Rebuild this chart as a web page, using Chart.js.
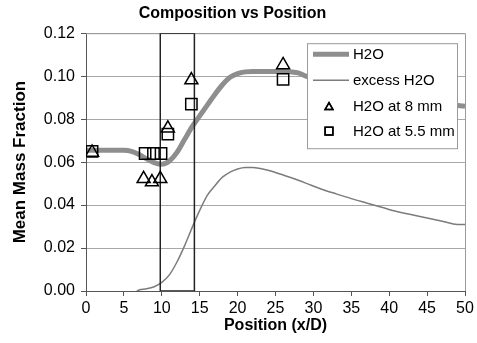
<!DOCTYPE html>
<html>
<head>
<meta charset="utf-8">
<script src="https://cdn.jsdelivr.net/npm/chart.js@4/dist/chart.umd.min.js"></script>
<style>
  html, body { margin: 0; padding: 0; background: #fff; }
  #wrap { width: 477px; height: 343px; }
</style>
</head>
<body>
<div id="wrap"><canvas id="compChart" width="477" height="343"></canvas></div>
<script>
// H2O mean mass fraction along the axis (thick grey line)
const h2oX = [0, 1, 2, 3, 4, 5, 6, 7, 8, 9, 10, 11, 12, 13, 14, 15, 16, 17, 18, 19, 20, 21, 22, 24, 26, 27, 28, 29, 30, 32, 34, 36, 38, 40, 42, 44, 46, 48, 50];
const h2oY = [0.0655, 0.0655, 0.0655, 0.0655, 0.0655, 0.0655, 0.065, 0.0635, 0.0615, 0.0598, 0.059, 0.0605, 0.0645, 0.0705, 0.0765, 0.0815, 0.0865, 0.0915, 0.096, 0.0995, 0.1012, 0.102, 0.1022, 0.1022, 0.1022, 0.102, 0.1015, 0.1, 0.0992, 0.0978, 0.0963, 0.0948, 0.0933, 0.0918, 0.0903, 0.089, 0.0878, 0.0868, 0.086];

// excess H2O (thin line)
const excessX = [6.7, 7, 8, 9, 10, 11, 12, 13, 14, 15, 16, 17, 18, 19, 20, 21, 22, 23, 24, 25, 27, 29, 31, 33, 35, 37, 39, 41, 43, 45, 47, 49, 50];
const excessY = [0, 0.0005, 0.001, 0.002, 0.004, 0.0075, 0.0135, 0.021, 0.0295, 0.0375, 0.0445, 0.049, 0.053, 0.0553, 0.0568, 0.0575, 0.0575, 0.057, 0.0562, 0.0552, 0.0528, 0.0502, 0.0475, 0.0452, 0.043, 0.041, 0.039, 0.037, 0.0355, 0.034, 0.0325, 0.031, 0.031];

// measurements
const at8X = [0.8, 7.6, 8.7, 9.8, 10.8, 13.9, 26];
const at8Y = [0.0645, 0.0522, 0.0507, 0.0522, 0.0757, 0.0982, 0.1052];
const at55X = [0.8, 7.8, 8.9, 9.9, 10.8, 13.9, 26];
const at55Y = [0.065, 0.064, 0.064, 0.064, 0.073, 0.087, 0.0985];

// outlined region
const boxX = [9.8, 9.8, 14.3, 14.3, 9.8];
const boxY = [0, 0.12, 0.12, 0, 0];

const seriesNames = ['H2O', 'excess H2O', 'H2O at 8 mm', 'H2O at 5.5 mm'];

const pts = (xs, ys) => xs.map((x, i) => ({ x: x, y: ys[i] }));

Chart.defaults.font.family = '"Liberation Sans", Arial, sans-serif';
Chart.defaults.color = '#000';

// grey frame on top/right of plot area
const framePlugin = {
    id: 'frame',
    beforeDatasetsDraw(chart) {
        const { ctx, chartArea: a } = chart;
        ctx.save();
        ctx.strokeStyle = '#9a9a9a';
        ctx.lineWidth = 1;
        ctx.beginPath();
        ctx.moveTo(a.left, a.top + 0.5);
        ctx.lineTo(a.right + 0.5, a.top + 0.5);
        ctx.lineTo(a.right + 0.5, a.bottom);
        ctx.stroke();
        ctx.restore();
    }
};

// legend drawn inside the plot, like the original
const boxLegend = {
    id: 'boxLegend',
    afterDatasetsDraw(chart) {
        const { ctx, chartArea: a } = chart;
        const left = a.right - 158, top = a.top + 10, w = 150, h = 105;
        ctx.save();
        ctx.fillStyle = '#fff';
        ctx.fillRect(left, top, w, h);
        ctx.strokeStyle = '#9a9a9a';
        ctx.lineWidth = 1;
        ctx.strokeRect(left + 0.5, top + 0.5, w, h);

        const rowY = [top + 11, top + 37, top + 63, top + 88];
        ctx.font = '15px "Liberation Sans", Arial, sans-serif';
        ctx.textBaseline = 'middle';
        ctx.textAlign = 'left';
        const ds = chart.data.datasets;
        // H2O thick line
        ctx.strokeStyle = ds[3].borderColor;
        ctx.lineWidth = 5;
        ctx.beginPath(); ctx.moveTo(left + 6, rowY[0]); ctx.lineTo(left + 42, rowY[0]); ctx.stroke();
        // excess thin line
        ctx.strokeStyle = ds[4].borderColor;
        ctx.lineWidth = 1.5;
        ctx.beginPath(); ctx.moveTo(left + 6, rowY[1]); ctx.lineTo(left + 42, rowY[1]); ctx.stroke();
        // markers
        ctx.strokeStyle = '#000';
        ctx.lineWidth = 1.5;
        Chart.helpers.drawPoint(ctx, { pointStyle: 'triangle', radius: 4.5, borderWidth: 1.5 }, left + 22, rowY[2] + 1);
        ctx.stroke();
        Chart.helpers.drawPoint(ctx, { pointStyle: 'rect', radius: 5.5, borderWidth: 1.5 }, left + 22, rowY[3]);
        ctx.stroke();

        ctx.fillStyle = '#000';
        seriesNames.forEach((s, i) => ctx.fillText(s, left + 46, rowY[i] + 1));
        ctx.restore();
    }
};

const ctx = document.getElementById('compChart').getContext('2d');

const compChart = new Chart(ctx, {
    type: 'scatter',
    data: {
        datasets: [
            {
                label: seriesNames[2],
                data: pts(at8X, at8Y),
                pointStyle: 'triangle',
                pointRadius: 7.5,
                pointBorderWidth: 1.5,
                borderColor: '#000',
                backgroundColor: 'rgba(0,0,0,0)'
            },
            {
                label: seriesNames[3],
                data: pts(at55X, at55Y),
                pointStyle: 'rect',
                pointRadius: 8,
                pointBorderWidth: 1.5,
                borderColor: '#000',
                backgroundColor: 'rgba(0,0,0,0)'
            },
            {
                label: 'box',
                data: pts(boxX, boxY),
                showLine: true,
                borderColor: '#222',
                borderWidth: 1.5,
                pointRadius: 0,
                tension: 0
            },
            {
                label: seriesNames[0],
                data: pts(h2oX, h2oY),
                showLine: true,
                borderColor: '#8e8e8e',
                borderWidth: 5,
                pointRadius: 0,
                cubicInterpolationMode: 'monotone'
            },
            {
                label: seriesNames[1],
                data: pts(excessX, excessY),
                showLine: true,
                borderColor: '#7c7c7c',
                borderWidth: 1.5,
                pointRadius: 0,
                cubicInterpolationMode: 'monotone'
            }
        ]
    },
    options: {
        responsive: false,
        animation: false,
        layout: { padding: { left: 0, right: 12, top: 0, bottom: 0 } },
        plugins: {
            legend: { display: false },
            tooltip: { enabled: false },
            title: {
                display: true,
                text: 'Composition vs Position',
                color: '#000',
                font: { size: 16, weight: 'bold' },
                padding: { top: 4, bottom: 10 }
            }
        },
        scales: {
            x: {
                type: 'linear',
                min: 0,
                max: 50,
                ticks: { stepSize: 5, font: { size: 16 }, padding: 3, color: '#000' },
                grid: { drawOnChartArea: false, drawTicks: true, tickLength: 5, tickColor: '#555' },
                border: { color: '#555', width: 1 },
                title: {
                    display: true,
                    text: 'Position (x/D)',
                    color: '#000',
                    font: { size: 16, weight: 'bold' },
                    padding: { top: 0, bottom: 8 }
                },
                afterFit(scale) { scale.height = 52; }
            },
            y: {
                min: 0,
                max: 0.12,
                ticks: {
                    stepSize: 0.02,
                    font: { size: 16 },
                    padding: 6,
                    color: '#000',
                    callback: v => v.toFixed(2)
                },
                grid: { color: '#a8a8a8', tickColor: '#555', tickLength: 5, lineWidth: 1 },
                border: { color: '#555', width: 1 },
                title: {
                    display: true,
                    text: 'Mean Mass Fraction',
                    color: '#000',
                    font: { size: 17, weight: 'bold' },
                    padding: { top: 10, bottom: 0 }
                },
                afterFit(scale) { scale.width = 86; }
            }
        }
    },
    plugins: [framePlugin, boxLegend]
});
</script>
</body>
</html>
